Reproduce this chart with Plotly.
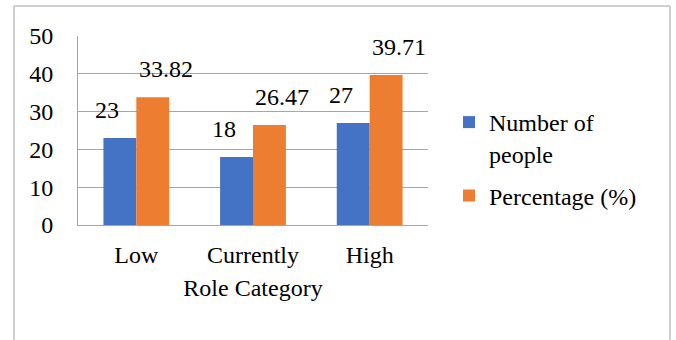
import plotly.graph_objects as go

categories = ["Low", "Currently", "High"]
people = [23, 18, 27]
percentage = [33.82, 26.47, 39.71]
series_names = ["Number of<br>people", "Percentage (%)"]
y_ticks = [0, 10, 20, 30, 40, 50]

BLUE = "#4472C4"
ORANGE = "#ED7D31"
GRID = "#A6A6A6"
FONT = "Liberation Serif, Times New Roman, serif"
FS = 24

W, H = 676, 340
ML, MR, MT, MB = 78, 248, 36, 115
PW, PH = W - ML - MR, H - MT - MB

fig = go.Figure()
fig.add_trace(go.Bar(x=categories, y=people, name=series_names[0],
                     legendgroup="a",
                     marker=dict(color=BLUE, line=dict(width=0))))
fig.add_trace(go.Bar(x=categories, y=percentage, name=series_names[1],
                     legendgroup="b",
                     marker=dict(color=ORANGE, line=dict(width=0))))

# value labels above each bar
annotations = []
for vals, off in ((people, -0.25), (percentage, 0.25)):
    for i, v in enumerate(vals):
        annotations.append(dict(
            x=i + off, y=v, xref="x", yref="y", text=f"{v:g}",
            showarrow=False, yanchor="bottom", yshift=13,
            font=dict(family=FONT, size=FS, color="#000000")))

# outer chart frame
def px_x(p):
    return (p - ML) / PW

def px_y(p):
    return (H - MB - p) / PH

shapes = [dict(type="rect", xref="paper", yref="paper",
               x0=px_x(14), x1=px_x(670), y0=px_y(360), y1=px_y(6),
               line=dict(color="#A0A0A0", width=1), fillcolor="rgba(0,0,0,0)",
               layer="below")]

fig.update_layout(
    width=W, height=H,
    margin=dict(l=ML, r=MR, t=MT, b=MB, pad=0),
    paper_bgcolor="white", plot_bgcolor="white",
    font=dict(family=FONT, size=FS, color="#000000"),
    barmode="group", bargap=0.436, bargroupgap=0,
    showlegend=True,
    legend=dict(x=px_x(449), y=px_y(100), xanchor="left", yanchor="top",
                valign="top", bgcolor="rgba(0,0,0,0)",
                font=dict(family=FONT, size=FS, color="#000000"),
                tracegroupgap=8),
    annotations=annotations,
    shapes=shapes,
)
fig.update_xaxes(type="category", showgrid=False, showline=True,
                 linecolor=GRID, linewidth=1, ticks="", ticklabelstandoff=8,
                 tickfont=dict(family=FONT, size=FS, color="#000000"),
                 title=dict(text="Role Category", standoff=12,
                            font=dict(family=FONT, size=FS, color="#000000")))
fig.update_yaxes(range=[0, 50], tickvals=y_ticks, showgrid=True,
                 gridcolor=GRID, gridwidth=1, showline=True, linecolor=GRID,
                 linewidth=1, ticks="", ticklabelstandoff=19, zeroline=False,
                 tickfont=dict(family=FONT, size=FS, color="#000000"))

fig.write_html("out.html")
